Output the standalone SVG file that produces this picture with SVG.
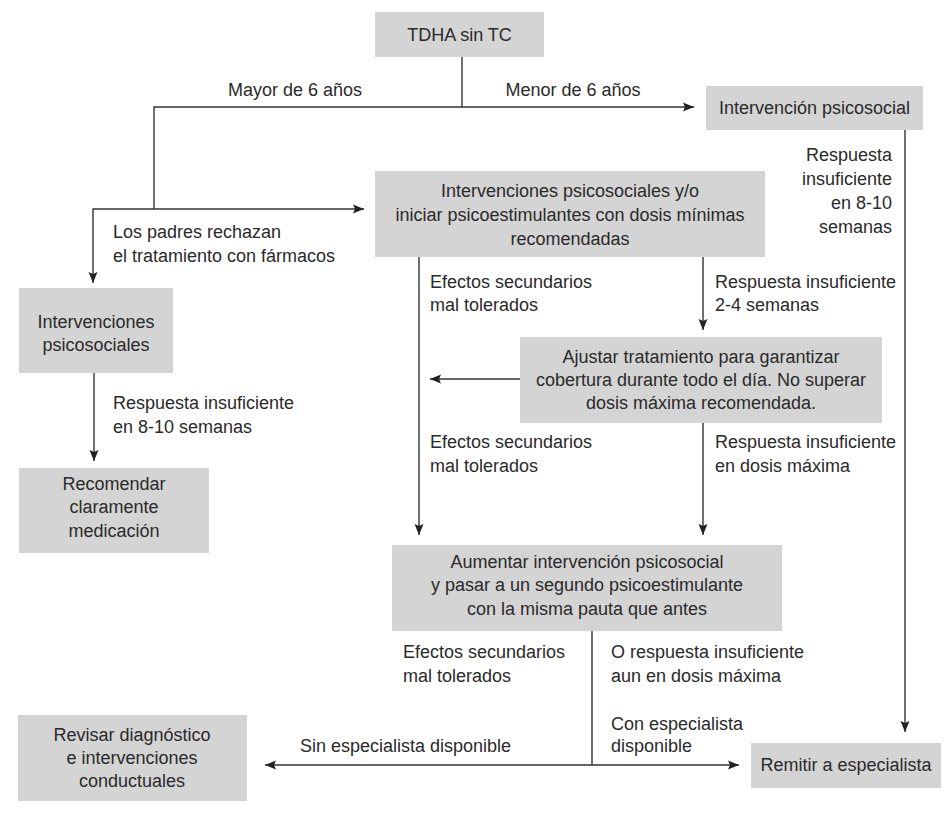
<svg xmlns="http://www.w3.org/2000/svg" width="944" height="824" viewBox="0 0 944 824">
<style>
  .box { fill: #d4d4d4; }
  text { font-family: "Liberation Sans", Arial, sans-serif; font-size: 18px; fill: #2a2a2a; }
  .c { text-anchor: middle; }
  .r { text-anchor: end; }
  .ln { fill: none; stroke: #333; stroke-width: 1.4; }
  .ar { marker-end: url(#ah); }
</style>
<defs>
  <marker id="ah" markerWidth="12" markerHeight="10" refX="11" refY="5" orient="auto" markerUnits="userSpaceOnUse">
    <path d="M0,0.5 L11,5 L0,9.5 L2,5 Z" fill="#222"/>
  </marker>
</defs>
<rect width="944" height="824" fill="#fff"/>

<g id="connectors">
  <path class="ln" d="M462,57 V107"/>
  <path class="ln ar" d="M462,107 H694"/>
  <path class="ln" d="M462,107 H154 V209"/>
  <path class="ln ar" d="M154,209 H364"/>
  <path class="ln ar" d="M154,209 H93 V283"/>
  <path class="ln ar" d="M94,373 V461"/>
  <path class="ln ar" d="M419,257 V535"/>
  <path class="ln ar" d="M703,257 V330"/>
  <path class="ln ar" d="M520,379 H430"/>
  <path class="ln ar" d="M703,423 V535"/>
  <path class="ln ar" d="M905,130 V732"/>
  <path class="ln" d="M592,631 V765"/>
  <path class="ln ar" d="M592,765 H265"/>
  <path class="ln ar" d="M592,765 H739"/>
</g>

<g id="labels">
  <text class="c" x="295" y="96">Mayor de 6 años</text>
  <text class="c" x="573" y="96">Menor de 6 años</text>
  <text class="r" x="892" y="161">Respuesta</text>
  <text class="r" x="892" y="185">insuficiente</text>
  <text class="r" x="892" y="209">en 8-10</text>
  <text class="r" x="892" y="233">semanas</text>
  <text x="113" y="238">Los padres rechazan</text>
  <text x="113" y="262">el tratamiento con fármacos</text>
  <text x="430" y="288">Efectos secundarios</text>
  <text x="430" y="311">mal tolerados</text>
  <text x="715" y="288">Respuesta insuficiente</text>
  <text x="715" y="311">2-4 semanas</text>
  <text x="113" y="409">Respuesta insuficiente</text>
  <text x="113" y="433">en 8-10 semanas</text>
  <text x="430" y="448">Efectos secundarios</text>
  <text x="430" y="472">mal tolerados</text>
  <text x="715" y="448">Respuesta insuficiente</text>
  <text x="715" y="472">en dosis máxima</text>
  <text x="403" y="658">Efectos secundarios</text>
  <text x="403" y="682">mal tolerados</text>
  <text x="611" y="658">O respuesta insuficiente</text>
  <text x="611" y="682">aun en dosis máxima</text>
  <text x="611" y="730">Con especialista</text>
  <text x="611" y="752">disponible</text>
  <text x="300" y="752">Sin especialista disponible</text>
</g>

<g id="n-tdha">
  <rect class="box" x="375" y="12" width="169" height="45"/>
  <text class="c" x="459.5" y="41">TDHA sin TC</text>
</g>
<g id="n-interv-psico">
  <rect class="box" x="706" y="86" width="217" height="44"/>
  <text class="c" x="814.5" y="114">Intervención psicosocial</text>
</g>
<g id="n-interv-yo">
  <rect class="box" x="375" y="171" width="390" height="86"/>
  <text class="c" x="570" y="197">Intervenciones psicosociales y/o</text>
  <text class="c" x="570" y="221">iniciar psicoestimulantes con dosis mínimas</text>
  <text class="c" x="570" y="245">recomendadas</text>
</g>
<g id="n-interv-psicosociales">
  <rect class="box" x="19" y="288" width="154" height="85"/>
  <text class="c" x="96" y="328">Intervenciones</text>
  <text class="c" x="96" y="351">psicosociales</text>
</g>
<g id="n-ajustar">
  <rect class="box" x="520" y="337" width="362" height="86"/>
  <text class="c" x="701" y="363">Ajustar tratamiento para garantizar</text>
  <text class="c" x="701" y="386">cobertura durante todo el día. No superar</text>
  <text class="c" x="701" y="409">dosis máxima recomendada.</text>
</g>
<g id="n-recomendar">
  <rect class="box" x="19" y="468" width="190" height="85"/>
  <text class="c" x="114" y="490">Recomendar</text>
  <text class="c" x="114" y="513">claramente</text>
  <text class="c" x="114" y="537">medicación</text>
</g>
<g id="n-aumentar">
  <rect class="box" x="392" y="545" width="390" height="86"/>
  <text class="c" x="587" y="568">Aumentar intervención psicosocial</text>
  <text class="c" x="587" y="591">y pasar a un segundo psicoestimulante</text>
  <text class="c" x="587" y="615">con la misma pauta que antes</text>
</g>
<g id="n-revisar">
  <rect class="box" x="18" y="715" width="229" height="86"/>
  <text class="c" x="132" y="741">Revisar diagnóstico</text>
  <text class="c" x="132" y="764">e intervenciones</text>
  <text class="c" x="132" y="787">conductuales</text>
</g>
<g id="n-remitir">
  <rect class="box" x="751" y="743" width="190" height="45"/>
  <text class="c" x="846" y="771">Remitir a especialista</text>
</g>
</svg>
